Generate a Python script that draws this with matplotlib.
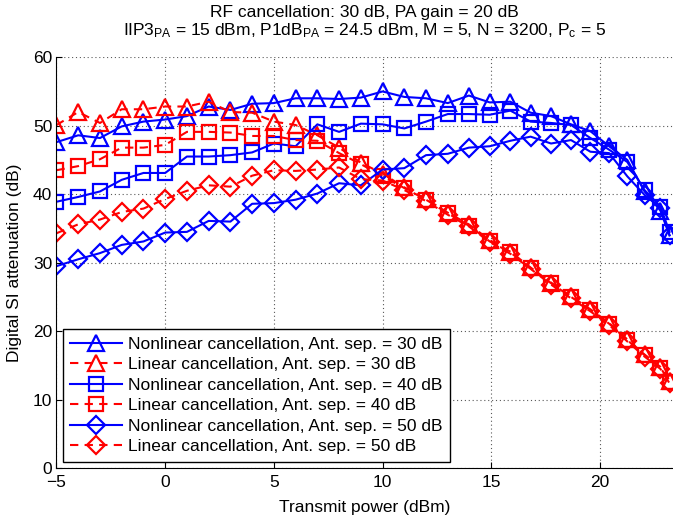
import numpy as np
import matplotlib
matplotlib.use('Agg')
import matplotlib.pyplot as plt

plt.rcParams['font.family'] = ['Liberation Sans', 'DejaVu Sans']
plt.rcParams['mathtext.fontset'] = 'custom'
plt.rcParams['mathtext.rm'] = 'Liberation Sans'
plt.rcParams['mathtext.it'] = 'Liberation Sans:italic'

# transmit power (dBm), compresses towards the top end
tx_power = [-5, -4, -3, -2, -1, 0, 1, 2, 3, 4, 5, 6, 7, 8, 9, 10, 11, 12, 13,
            13.97, 14.93, 15.88, 16.81, 17.75, 18.67, 19.56, 20.42, 21.26, 22.05, 22.78, 23.2]

nl_30 = [47.6, 48.6, 48.2, 49.9, 50.6, 50.9, 51.4, 52.8, 52.3, 53.2, 53.3, 54.0, 54.0, 53.9, 54.1, 55.0,
         54.2, 54.0, 53.3, 54.4, 53.4, 53.5, 51.9, 51.4, 50.2, 49.2, 47.0, 45.0, 40.4, 37.6, 34.0]
lin_30 = [50.1, 52.0, 50.4, 52.4, 52.4, 52.8, 52.8, 53.5, 52.0, 51.9, 50.6, 50.1, 48.6, 46.8, 44.6, 43.0,
          41.0, 39.3, 37.3, 35.6, 33.3, 31.6, 29.3, 27.1, 25.1, 23.2, 21.2, 18.8, 16.6, 14.8, 12.8]
nl_40 = [38.9, 39.6, 40.4, 42.1, 43.1, 43.1, 45.5, 45.5, 45.7, 46.1, 47.4, 47.0, 50.2, 49.1, 50.3, 50.2,
         49.6, 50.6, 51.7, 51.7, 51.6, 52.2, 50.6, 50.4, 50.1, 48.2, 46.5, 44.7, 40.6, 38.2, 34.5]
lin_40 = [43.5, 44.1, 45.1, 46.8, 46.8, 47.2, 49.1, 49.1, 49.0, 48.5, 48.5, 47.9, 47.8, 46.0, 44.4, 42.6,
          40.9, 39.2, 37.2, 35.4, 33.1, 31.5, 29.2, 27.0, 25.0, 23.1, 21.1, 18.7, 16.5, 14.7, 12.6]
nl_50 = [29.5, 30.5, 31.4, 32.6, 33.1, 34.4, 34.5, 36.1, 36.0, 38.6, 38.7, 39.2, 40.1, 41.6, 41.3, 43.6,
         43.8, 45.7, 45.9, 46.8, 47.0, 47.8, 48.4, 47.4, 47.9, 46.2, 46.0, 42.6, 39.9, 38.0, 34.0]
lin_50 = [34.3, 35.6, 36.3, 37.4, 37.9, 39.3, 40.5, 41.3, 41.1, 42.7, 43.5, 43.4, 43.6, 43.9, 42.2, 42.0,
          40.6, 39.0, 37.0, 35.3, 33.0, 31.3, 29.1, 26.8, 24.8, 22.9, 20.9, 18.5, 16.3, 14.5, 12.4]

series = [
    (nl_30, 'b', '-', '^', 11, 'Nonlinear cancellation, Ant. sep. = 30 dB'),
    (lin_30, 'r', '--', '^', 11, 'Linear cancellation, Ant. sep. = 30 dB'),
    (nl_40, 'b', '-', 's', 9.5, 'Nonlinear cancellation, Ant. sep. = 40 dB'),
    (lin_40, 'r', '--', 's', 9.5, 'Linear cancellation, Ant. sep. = 40 dB'),
    (nl_50, 'b', '-', 'D', 9, 'Nonlinear cancellation, Ant. sep. = 50 dB'),
    (lin_50, 'r', '--', 'D', 9, 'Linear cancellation, Ant. sep. = 50 dB'),
]

fs = 12.5

fig = plt.figure(figsize=(6.73, 5.17), dpi=100)
ax = fig.add_axes([56.5 / 673, 1 - 468.2 / 517, 1 - 56.5 / 673, (468.2 - 57.2) / 517])

for vals, col, ls, mk, ms, lab in series:
    line, = ax.plot(tx_power, vals, color=col, linestyle=ls, marker=mk, markersize=ms,
                    markerfacecolor='none', markeredgecolor=col, markeredgewidth=1.6,
                    linewidth=1.5, label=lab)
    if ls == '--':
        line.set_dashes((4, 3))

ax.set_xlim(-5, 23.36)
ax.set_ylim(0, 60)
ax.set_xticks([-5, 0, 5, 10, 15, 20])
ax.set_xticklabels(['\u22125', '0', '5', '10', '15', '20'])
ax.set_yticks(np.arange(0, 61, 10))
ax.grid(True, linestyle=(0, (1, 2.5)), color='0.35', linewidth=0.8)
ax.spines['top'].set_visible(False)
ax.spines['right'].set_visible(False)
ax.tick_params(direction='in', labelsize=fs, length=4)
ax.tick_params(axis='x', pad=5)
ax.tick_params(axis='y', pad=3)

ax.set_xlabel('Transmit power (dBm)', fontsize=fs, labelpad=7)
ax.set_ylabel('Digital SI attenuation (dB)', fontsize=fs, labelpad=8)

# two-line title placed by hand
xc = (56.5 + 673) / 2 / 673
fig.text(xc, 1 - 12 / 517, 'RF cancellation: 30 dB, PA gain = 20 dB',
         fontsize=fs, ha='center', va='center')
fig.text(xc, 1 - 31 / 517,
         'IIP3$_{\\mathrm{PA}}$ = 15 dBm, P1dB$_{\\mathrm{PA}}$ = 24.5 dBm, M = 5, N = 3200, P$_{\\mathrm{c}}$ = 5',
         fontsize=fs, ha='center', va='center')

leg = ax.legend(loc='lower left', fontsize=fs, handlelength=3.0, handletextpad=0.3,
                labelspacing=0.31, borderaxespad=0.35, borderpad=0.45, fancybox=False, framealpha=1)
leg.get_frame().set_edgecolor('k')
leg.get_frame().set_linewidth(1.0)

fig.savefig('out.png', dpi=100)
